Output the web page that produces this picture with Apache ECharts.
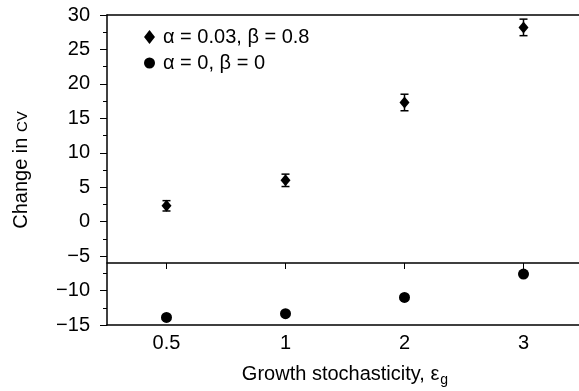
<!DOCTYPE html>
<html><head><meta charset="utf-8">
<script src="https://cdn.jsdelivr.net/npm/echarts@6/dist/echarts.min.js"></script>
<style>html,body{margin:0;padding:0;background:#fff}#c{width:579px;height:391px}</style>
</head><body><div id="c"></div>
<script>
const categories = ['0.5', '1', '2', '3'];
const seriesAName = 'α = 0.03, β = 0.8';
const seriesAValues = [2.3, 6.0, 17.3, 28.2];
const seriesAErrors = [0.75, 0.9, 1.2, 1.2];
const seriesBName = 'α = 0, β = 0';
const seriesBValues = [-13.9, -13.35, -11.0, -7.6];
const yMin = -15, yMax = 30, yInterval = 5;
const breakValue = -6;

const FONT = "'Liberation Sans', Arial, Helvetica, sans-serif";
const FS = 20;
const gridTop = 15, gridBottom = 66, gridHeight = 391 - gridTop - gridBottom;
const breakOffset = -Math.round((breakValue - yMin) / (yMax - yMin) * gridHeight);

const errData = categories.map((c, i) => [i, seriesAValues[i] - seriesAErrors[i], seriesAValues[i] + seriesAErrors[i]]);

const chart = echarts.init(document.getElementById('c'));
const lineStyle = {color: '#000', width: 1.5};
chart.setOption({
  animation: false,
  textStyle: {fontFamily: FONT, color: '#000'},
  grid: {left: 107, right: -4, top: gridTop, bottom: gridBottom, containLabel: false, outerBoundsMode: 'none'},
  legend: {
    orient: 'vertical', left: 139, top: 22, itemGap: 6,
    itemWidth: 11, itemHeight: 14,
    textStyle: {fontFamily: FONT, fontSize: FS, color: '#000', padding: [0, 0, 0, 3]},
    data: [{name: seriesAName, icon: 'diamond'}, {name: seriesBName, icon: 'circle'}]
  },
  xAxis: [
    {
      type: 'category', data: categories, position: 'bottom', boundaryGap: true,
      axisLine: {onZero: false, lineStyle}, axisTick: {show: false},
      axisLabel: {fontSize: FS, color: '#000', margin: 8, fontFamily: FONT},
      name: 'Growth stochasticity, {e|ε}{sub|g}', nameLocation: 'middle', nameGap: 36,
      nameTextStyle: {fontSize: FS, color: '#000', fontFamily: FONT,
        rich: {e: {fontSize: FS, fontFamily: FONT}, sub: {fontSize: 14, fontFamily: FONT, padding: [12, 0, 0, 1]}}},
      splitLine: {show: false}
    },
    {
      type: 'category', data: categories, position: 'bottom', offset: breakOffset, boundaryGap: true,
      axisLine: {onZero: false, lineStyle}, axisTick: {show: true, alignWithLabel: true, length: 6, lineStyle: {color: '#000', width: 1}},
      axisLabel: {show: false}, splitLine: {show: false}
    },
    {
      type: 'category', data: categories, position: 'top', boundaryGap: true,
      axisLine: {onZero: false, lineStyle}, axisTick: {show: false}, axisLabel: {show: false}, splitLine: {show: false}
    }
  ],
  yAxis: {
    type: 'value', min: yMin, max: yMax, interval: yInterval,
    axisLine: {show: true, onZero: false, lineStyle},
    axisTick: {show: true, length: 7, lineStyle: {color: '#000', width: 1}},
    minorTick: {show: true, splitNumber: 2, length: 4, lineStyle: {color: '#000', width: 1}},
    splitLine: {show: false},
    axisLabel: {fontSize: FS, color: '#000', margin: 17, fontFamily: FONT,
      formatter: v => String(v).replace('-', '\u2212')},
    name: 'Change in {s|CV}', nameLocation: 'middle', nameGap: 76, nameRotate: 90,
    nameTextStyle: {fontSize: FS, color: '#000', fontFamily: FONT,
      rich: {s: {fontSize: 15, fontFamily: FONT, padding: [3, 0, 0, 0]}}}
  },
  series: [
    {
      type: 'custom', name: 'errA', xAxisIndex: 0, data: errData, z: 3,
      renderItem: (params, api) => {
        const x = api.value(0);
        const pLo = api.coord([x, api.value(1)]);
        const pHi = api.coord([x, api.value(2)]);
        const w = 4;
        const st = {stroke: '#000', lineWidth: 1.5};
        return {type: 'group', children: [
          {type: 'line', shape: {x1: pLo[0], y1: pLo[1], x2: pHi[0], y2: pHi[1]}, style: st},
          {type: 'line', shape: {x1: pLo[0] - w, y1: pLo[1], x2: pLo[0] + w, y2: pLo[1]}, style: st},
          {type: 'line', shape: {x1: pHi[0] - w, y1: pHi[1], x2: pHi[0] + w, y2: pHi[1]}, style: st}
        ]};
      }
    },
    {
      type: 'scatter', name: seriesAName, xAxisIndex: 0, symbol: 'diamond', symbolSize: [10, 12],
      itemStyle: {color: '#000', opacity: 1}, data: seriesAValues, z: 4
    },
    {
      type: 'scatter', name: seriesBName, xAxisIndex: 0, symbol: 'circle', symbolSize: 11,
      itemStyle: {color: '#000', opacity: 1}, data: seriesBValues, z: 4
    }
  ]
});
</script></body></html>
